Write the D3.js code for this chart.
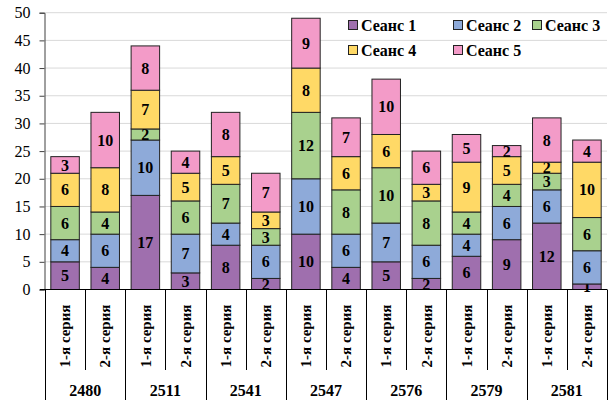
<!DOCTYPE html>
<html>
<head>
<meta charset="utf-8">
<script src="https://cdn.jsdelivr.net/npm/d3@7"></script>
<style>
  html, body { margin: 0; padding: 0; background: #fff; }
  svg { display: block; }
  svg text { font-family: "Liberation Serif", "Times New Roman", serif; }
</style>
</head>
<body>
<svg id="chart" width="611" height="401"></svg>
<script>
// Groups (samples) and the two series within each
const groups = ["2480", "2511", "2541", "2547", "2576", "2579", "2581"];
const seriesNames = ["1-я серия", "2-я серия"];

// Sessions (stack layers), bottom to top
const sessions = ["Сеанс 1", "Сеанс 2", "Сеанс 3", "Сеанс 4", "Сеанс 5"];
const sessionColors = ["#9f6fae", "#8eaad9", "#a9d18e", "#ffd966", "#f39bc8"];

// Values per bar, in order: 2480 1/2, 2511 1/2, ... 2581 1/2
const session1 = [5, 4, 17, 3, 8, 2, 10, 4, 5, 2, 6, 9, 12, 1];
const session2 = [4, 6, 10, 7, 4, 6, 10, 6, 7, 6, 4, 6, 6, 6];
const session3 = [6, 4, 2, 6, 7, 3, 12, 8, 10, 8, 4, 4, 3, 6];
const session4 = [6, 8, 7, 5, 5, 3, 8, 6, 6, 3, 9, 5, 2, 10];
const session5 = [3, 10, 8, 4, 8, 7, 9, 7, 10, 6, 5, 2, 8, 4];

const yTicks = [0, 5, 10, 15, 20, 25, 30, 35, 40, 45, 50];

const seriesValues = [session1, session2, session3, session4, session5];
const FONT = "'Liberation Serif', 'Times New Roman', serif";

// Build bar records
const bars = [];
groups.forEach((g, gi) => {
  seriesNames.forEach((s, si) => {
    const i = gi * 2 + si;
    const rec = { key: g + "|" + s, group: g, series: s };
    sessions.forEach((name, k) => { rec[name] = seriesValues[k][i]; });
    bars.push(rec);
  });
});

const svg = d3.select("#chart").attr("font-family", FONT);
const plotLeft = 45, plotRight = 607, plotTop = 12.7, plotBottom = 289.5;

const x = d3.scaleBand()
  .domain(bars.map(d => d.key))
  .range([plotLeft, plotRight])
  .paddingInner(0.29)
  .paddingOuter(0.145);

const y = d3.scaleLinear().domain([0, 50]).range([plotBottom, plotTop]);

// Gridlines
svg.append("g")
  .selectAll("line")
  .data(yTicks.filter(t => t > 0))
  .join("line")
  .attr("x1", plotLeft).attr("x2", plotRight)
  .attr("y1", d => y(d)).attr("y2", d => y(d))
  .attr("stroke", "#d9d9d9").attr("stroke-width", 1);

// Y axis
const yAxis = svg.append("g")
  .attr("transform", `translate(${plotLeft - 0.5},0)`)
  .call(d3.axisLeft(y).tickValues(yTicks).tickSize(5).tickPadding(9))
  .attr("font-family", FONT);
yAxis.select(".domain").attr("stroke", "#404040");
yAxis.selectAll(".tick line").attr("stroke", "#404040");
yAxis.selectAll("text")
  .attr("font-size", 16)
  .attr("fill", "#000")
  .style("font-family", FONT);

// Stacked bars
const stack = d3.stack().keys(sessions);
const layers = stack(bars);

const layerG = svg.append("g")
  .selectAll("g")
  .data(layers)
  .join("g")
  .attr("fill", (d, i) => sessionColors[i]);

layerG.selectAll("rect")
  .data(d => d)
  .join("rect")
  .attr("x", d => x(d.data.key))
  .attr("width", x.bandwidth())
  .attr("y", d => y(d[1]))
  .attr("height", d => y(d[0]) - y(d[1]))
  .attr("stroke", "#222")
  .attr("stroke-width", 1);

// Value labels
layerG.selectAll("text")
  .data(d => d)
  .join("text")
  .attr("x", d => x(d.data.key) + x.bandwidth() / 2)
  .attr("y", d => (y(d[0]) + y(d[1])) / 2)
  .attr("dy", "0.35em")
  .attr("text-anchor", "middle")
  .attr("font-size", 16)
  .attr("font-weight", "bold")
  .attr("fill", "#000")
  .style("font-family", FONT)
  .text(d => d[1] - d[0]);

// X axis line
svg.append("line")
  .attr("x1", plotLeft - 5).attr("x2", plotRight)
  .attr("y1", plotBottom).attr("y2", plotBottom)
  .attr("stroke", "#000").attr("stroke-width", 1);

// Category dividers: short within a group, long between groups
const step = x.step();
const boundaries = d3.range(bars.length + 1).map(i => plotLeft + i * step);
svg.append("g")
  .selectAll("line")
  .data(boundaries)
  .join("line")
  .attr("x1", d => Math.round(d) + 0.5).attr("x2", d => Math.round(d) + 0.5)
  .attr("y1", plotBottom)
  .attr("y2", (d, i) => i % 2 === 0 ? 400 : 370)
  .attr("stroke", "#000").attr("stroke-width", 1);

// Series labels (rotated)
svg.append("g")
  .selectAll("text")
  .data(bars)
  .join("text")
  .attr("transform", d => `translate(${x(d.key) + x.bandwidth() / 2},${336}) rotate(-90)`)
  .attr("text-anchor", "middle")
  .attr("dy", "0.35em")
  .attr("font-size", 15)
  .attr("font-weight", "bold")
  .attr("fill", "#000")
  .style("font-family", FONT)
  .text(d => d.series);

// Group labels
svg.append("g")
  .selectAll("text")
  .data(groups)
  .join("text")
  .attr("x", (d, i) => plotLeft + (i * 2 + 1) * step)
  .attr("y", 396)
  .attr("text-anchor", "middle")
  .attr("font-size", 16)
  .attr("font-weight", "bold")
  .attr("fill", "#000")
  .style("font-family", FONT)
  .text(d => d);

// Legend
const legendPos = [
  [348, 25], [453, 25], [532, 25],
  [348, 50], [453, 50]
];
const legend = svg.append("g")
  .selectAll("g")
  .data(sessions)
  .join("g")
  .attr("transform", (d, i) => `translate(${legendPos[i][0]},${legendPos[i][1]})`);
legend.append("rect")
  .attr("x", 0.5).attr("y", -4.5)
  .attr("width", 9).attr("height", 9)
  .attr("fill", (d, i) => sessionColors[i])
  .attr("stroke", "#222");
legend.append("text")
  .attr("x", 13).attr("dy", "0.35em")
  .attr("font-size", 16)
  .attr("font-weight", "bold")
  .attr("fill", "#000")
  .style("font-family", FONT)
  .text(d => d);
</script>
</body>
</html>
